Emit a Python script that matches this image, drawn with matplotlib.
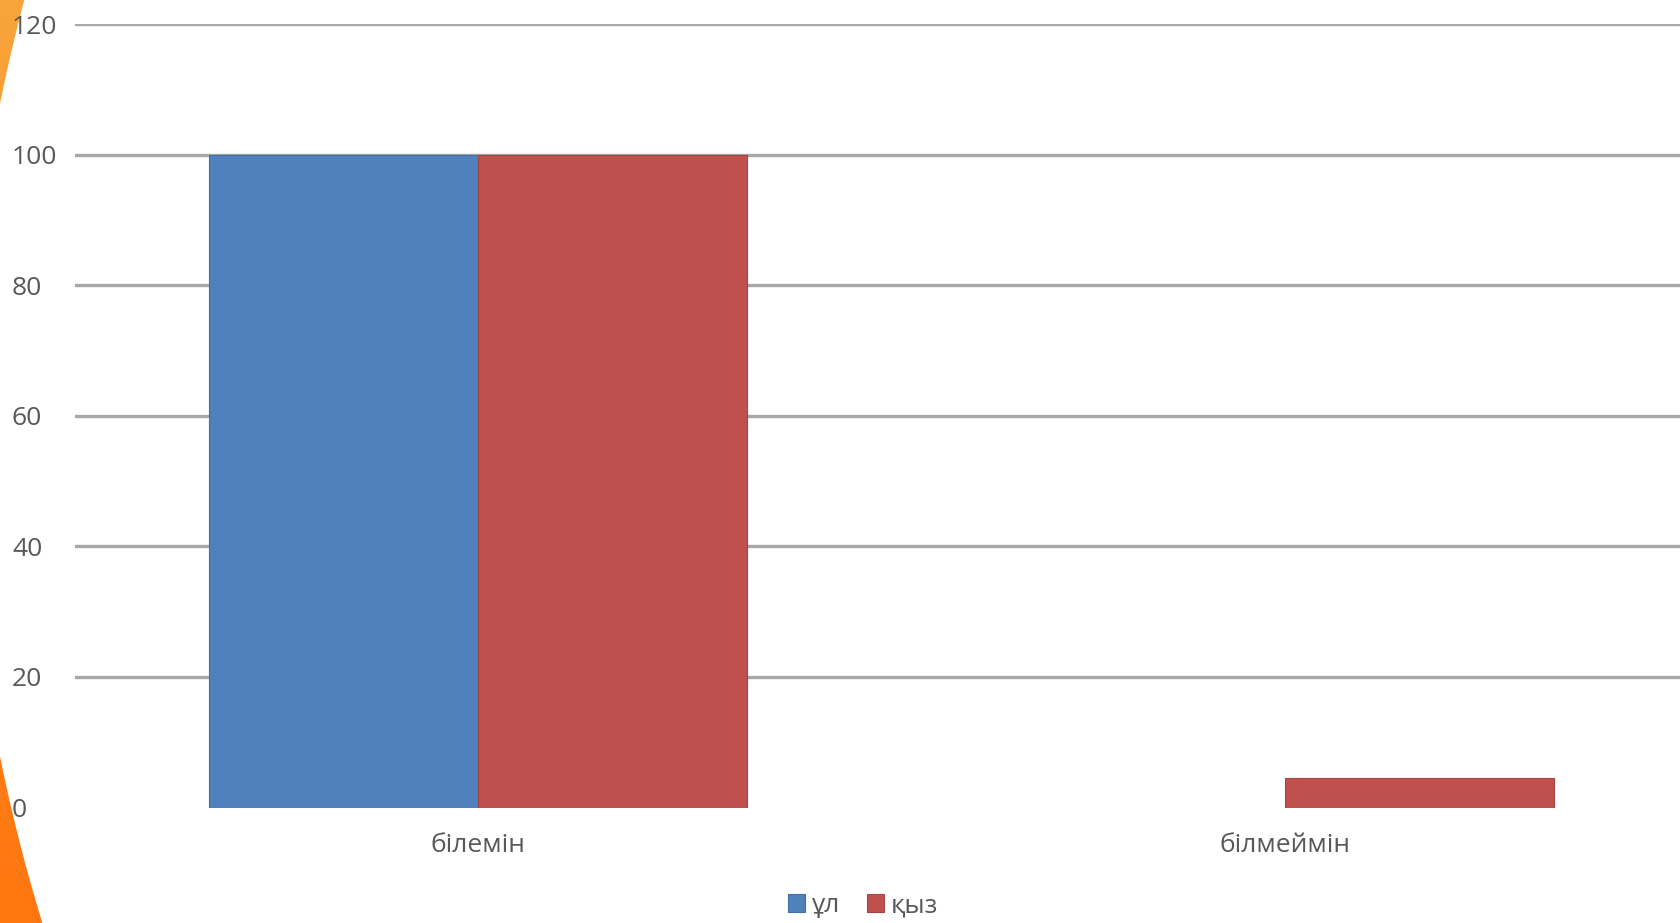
import numpy as np
import matplotlib
matplotlib.use("Agg")
import matplotlib.pyplot as plt
from matplotlib.patches import Polygon
from matplotlib.colors import LinearSegmentedColormap

plt.rcParams['font.family'] = ['Open Sans', 'Noto Sans', 'DejaVu Sans']

# Data
categories = ["білемін", "білмеймін"]
series_names = ["ұл", "қыз"]
boys = [100, 0]
girls = [100, 4.5]
y_ticks = [0, 20, 40, 60, 80, 100, 120]

colors = ["#4F81BD", "#C0504D"]
edge_colors = ["#44709f", "#a64541"]
text_color = "#595959"
grid_color = "#a8a8a8"

W, H = 1680, 923
fig = plt.figure(figsize=(W / 100, H / 100), dpi=100, facecolor="white")

# Slide background: orange arc along the left edge
bg = fig.add_axes([0, 0, 1, 1], zorder=0)
bg.set_xlim(0, W)
bg.set_ylim(H, 0)
bg.axis("off")
ys = np.linspace(0, H, 300)
xs = np.clip(3.1e-4 * (ys - 430) ** 2 - 33.0, 0, None)
pts = [(0, 0)] + list(zip(xs, ys)) + [(0, H)]
shape = Polygon(pts, closed=True, facecolor="none", edgecolor="none")
bg.add_patch(shape)
grad = np.linspace(0, 1, 256).reshape(-1, 1)
cmap = LinearSegmentedColormap.from_list("slide", ["#f8a53c", "#ff8c22", "#ff7510"])
im = bg.imshow(grad, cmap=cmap, extent=(0, 60, H, 0), aspect="auto", zorder=1)
im.set_clip_path(shape)

# Chart
ax = fig.add_axes([75 / W, 1 - 807.5 / H, 1613 / W, (807.5 - 24.3) / H], zorder=1)
ax.patch.set_alpha(0)
x = np.arange(len(categories))
bw = 1 / 3
for i, (vals, name) in enumerate(zip([boys, girls], series_names)):
    widths = [0.8 if v > 0 else 0 for v in vals]
    ax.bar(x + (i - 0.5) * bw, vals, width=bw, color=colors[i], edgecolor=edge_colors[i],
           linewidth=widths, label=name, zorder=3)

ax.set_xlim(-0.5, 1.5)
ax.set_ylim(0, 120)
ax.set_yticks(y_ticks)
ax.set_yticklabels([str(t) for t in y_ticks])
ax.yaxis.grid(True, color=grid_color, linewidth=2.4, zorder=0)
ax.get_ygridlines()[0].set_visible(False)
ax.set_axisbelow(True)
for s in ax.spines.values():
    s.set_visible(False)
ax.tick_params(axis="y", length=0, pad=45.4, labelsize=19, labelcolor=text_color)
for lbl in ax.get_yticklabels():
    lbl.set_horizontalalignment("left")
ax.set_xticks(x)
ax.set_xticklabels(categories)
ax.tick_params(axis="x", length=0, pad=18, labelsize=19, labelcolor=text_color)

fig.legend(loc="center", bbox_to_anchor=(863 / W, 1 - 906 / H), ncol=2, frameon=False,
           fontsize=19, labelcolor=text_color, handlelength=0.65, handleheight=0.65,
           handletextpad=0.25, columnspacing=1.0, borderpad=0)

fig.savefig("out.png", dpi=100, facecolor="white")
